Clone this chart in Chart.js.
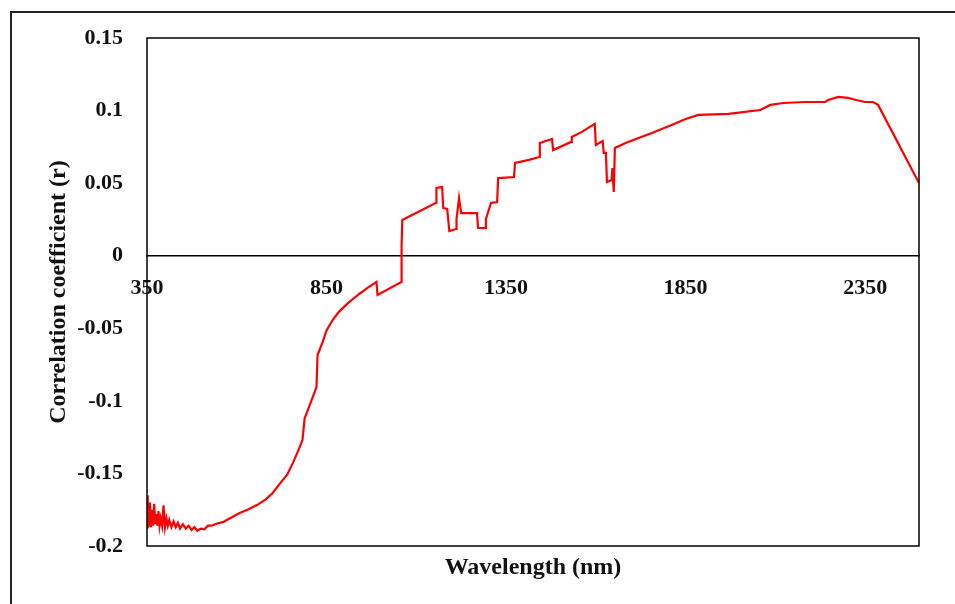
<!DOCTYPE html>
<html>
<head>
<meta charset="utf-8">
<script src="https://cdn.jsdelivr.net/npm/chart.js@4.4.1/dist/chart.umd.min.js"></script>
<style>
    html, body { margin: 0; padding: 0; background: #fff; }
    #wrap { width: 955px; height: 604px; position: relative; }
</style>
</head>
<body>
<div id="wrap"><canvas id="corrChart"></canvas></div>
<script>
const wavelengths = [350, 352, 354, 356, 358, 361, 364, 367, 370, 373, 376, 379, 382, 385, 388, 392, 396, 400, 404, 408,
    412, 418, 424, 430, 436, 442, 450, 458, 466, 474, 482, 490, 500, 510, 520, 530, 545, 561, 580, 608,
    630, 656, 680, 700, 720, 740, 756, 770, 783, 789, 800, 822, 825, 839, 850, 867, 885, 906, 920, 942,
    965, 989, 992, 1058, 1059, 1061, 1155, 1156, 1172, 1175, 1186, 1192, 1211, 1212, 1219, 1225, 1269, 1272, 1292, 1294,
    1308, 1325, 1328, 1372, 1375, 1414, 1442, 1444, 1478, 1481, 1531, 1533, 1561, 1597, 1600, 1619, 1622, 1628, 1631, 1644,
    1646, 1650, 1653, 1683, 1719, 1756, 1811, 1850, 1886, 1969, 2058, 2086, 2122, 2183, 2239, 2247, 2275, 2303, 2325, 2350,
    2372, 2386, 2500];
const rValues = [-0.165, -0.188, -0.172, -0.186, -0.170, -0.187, -0.175, -0.186, -0.171, -0.185, -0.178, -0.186, -0.176, -0.186, -0.181, -0.186, -0.172, -0.187, -0.181, -0.186,
    -0.182, -0.187, -0.183, -0.187, -0.184, -0.188, -0.185, -0.188, -0.186, -0.189, -0.187, -0.1895, -0.188, -0.1885, -0.186, -0.186, -0.1845, -0.1836, -0.181, -0.1773,
    -0.175, -0.1718, -0.168, -0.1635, -0.157, -0.151, -0.1429, -0.135, -0.127, -0.112, -0.105, -0.0905, -0.0684, -0.0595, -0.0515, -0.0443, -0.0385, -0.0335, -0.0305, -0.0262,
    -0.022, -0.0181, -0.0270, -0.0181, 0.0067, 0.0246, 0.0365, 0.0467, 0.0473, 0.0329, 0.0322, 0.0170, 0.0184, 0.0253, 0.0398, 0.0294, 0.0294, 0.0191, 0.0191, 0.0253,
    0.0363, 0.0370, 0.0535, 0.0542, 0.0639, 0.0660, 0.0680, 0.0777, 0.0804, 0.0728, 0.0784, 0.0818, 0.0853, 0.0908, 0.0763, 0.0790, 0.0708, 0.0708, 0.0508, 0.0522,
    0.0604, 0.0439, 0.0742, 0.0777, 0.0811, 0.0846, 0.0901, 0.0942, 0.0970, 0.0977, 0.1004, 0.1039, 0.1052, 0.1059, 0.1059, 0.1073, 0.1094, 0.1087, 0.1073, 0.1059,
    0.1059, 0.1039, 0.0501];

const xTicks = [350, 850, 1350, 1850, 2350];
const yTicks = [-0.2, -0.15, -0.1, -0.05, 0, 0.05, 0.1, 0.15];
const yTickLabels = ['-0.2', '-0.15', '-0.1', '-0.05', '0', '0.05', '0.1', '0.15'];

const serif = '"Liberation Serif", "DejaVu Serif", serif';

// white page + outer frame, and the box around the plot
const frames = {
    id: 'frames',
    beforeDraw(chart) {
        const ctx = chart.ctx;
        ctx.save();
        ctx.fillStyle = '#fff';
        ctx.fillRect(0, 0, chart.width, chart.height);
        ctx.strokeStyle = '#222';
        ctx.lineWidth = 2;
        ctx.strokeRect(11, 12, 1100, 1100);
        ctx.restore();
    },
    afterDraw(chart) {
        const a = chart.chartArea;
        const ctx = chart.ctx;
        ctx.save();
        ctx.strokeStyle = '#000';
        ctx.lineWidth = 1.5;
        ctx.strokeRect(a.left, a.top, a.right - a.left, a.bottom - a.top);
        ctx.restore();
    }
};

const ctx = document.getElementById('corrChart').getContext('2d');
const chart = new Chart(ctx, {
    type: 'line',
    data: {
        datasets: [{
            data: wavelengths.map((w, i) => ({ x: w, y: rValues[i] })),
            borderColor: 'rgb(255, 0, 0)',
            borderWidth: 2.2,
            pointRadius: 0,
            tension: 0,
            fill: false
        }]
    },
    options: {
        responsive: true,
        maintainAspectRatio: false,
        animation: false,
        layout: { padding: { top: 38, right: 36, left: 0, bottom: 0 } },
        plugins: { legend: { display: false }, tooltip: { enabled: false } },
        scales: {
            x: {
                type: 'linear',
                position: { y: 0 },
                min: 350,
                max: 2500,
                afterBuildTicks: (scale) => { scale.ticks = xTicks.map(v => ({ value: v })); },
                grid: { display: false, drawTicks: false },
                border: { display: true, color: '#000', width: 1.5 },
                ticks: {
                    color: '#111',
                    padding: 19,
                    maxRotation: 0,
                    font: { family: serif, size: 22, weight: 'bold' },
                    callback: (value) => String(value)
                }
            },
            x2: {
                type: 'linear',
                position: 'bottom',
                min: 350,
                max: 2500,
                grid: { display: false, drawTicks: false },
                border: { display: false },
                ticks: { display: false },
                afterFit: (scale) => { scale.height = 58; },
                title: {
                    display: true,
                    text: 'Wavelength (nm)',
                    color: '#111',
                    padding: { top: 0, bottom: 22 },
                    font: { family: serif, size: 24, weight: 'bold' }
                }
            },
            y: {
                type: 'linear',
                min: -0.2,
                max: 0.15,
                afterBuildTicks: (scale) => { scale.ticks = yTicks.map(v => ({ value: v })); },
                afterFit: (scale) => { scale.width = 147; },
                grid: { display: false, drawTicks: false },
                border: { display: false },
                ticks: {
                    color: '#111',
                    padding: 24,
                    font: { family: serif, size: 22, weight: 'bold' },
                    callback: (value, index) => yTickLabels[index]
                },
                title: {
                    display: true,
                    text: 'Correlation coefficient (r)',
                    color: '#111',
                    padding: { top: 44, bottom: 0 },
                    font: { family: serif, size: 24, weight: 'bold' }
                }
            }
        }
    },
    plugins: [frames]
});
</script>
</body>
</html>
